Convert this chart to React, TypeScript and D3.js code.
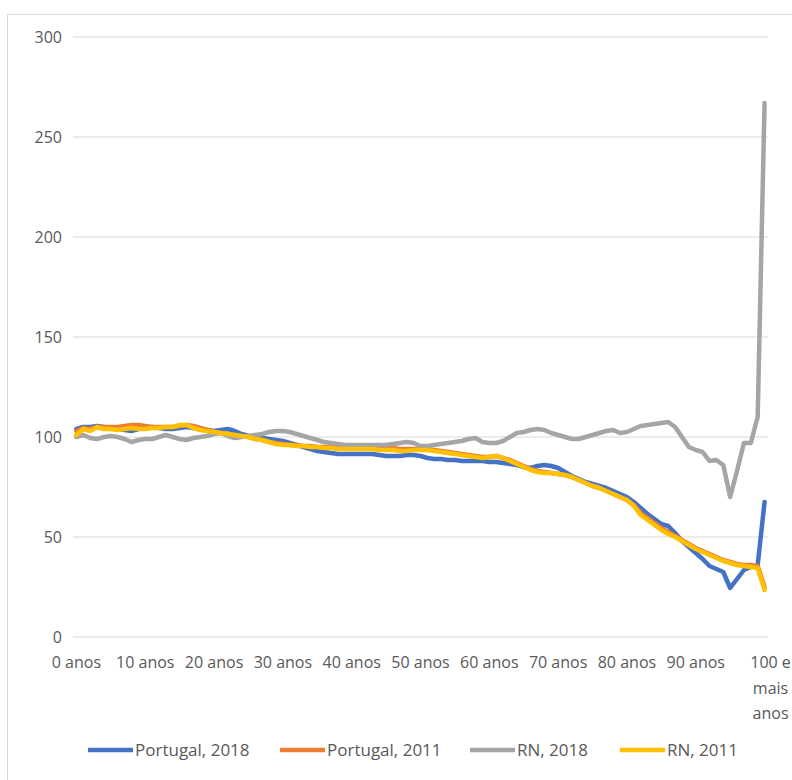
import React from "react";
import * as d3 from "d3";

const categories: string[] = [
  ...Array.from({ length: 100 }, (_, i) => `${i} anos`),
  "100 e mais anos",
];

const tickLabels: string[][] = [
  ["0 anos"], ["10 anos"], ["20 anos"], ["30 anos"], ["40 anos"], ["50 anos"],
  ["60 anos"], ["70 anos"], ["80 anos"], ["90 anos"], ["100 e", "mais", "anos"],
];
const tickCats: string[] = [
  "0 anos", "10 anos", "20 anos", "30 anos", "40 anos", "50 anos",
  "60 anos", "70 anos", "80 anos", "90 anos", "100 e mais anos",
];

const yTicks: number[] = [0, 50, 100, 150, 200, 250, 300];

const portugal2018: number[] = [
  104, 105, 105, 105.5, 105, 104.5, 104, 103.5, 103, 104,
  104.5, 105, 104.5, 104, 104, 104.5, 105, 104.5, 104, 103.5,
  103, 103.5, 104, 103, 101.5, 100.5, 100, 99.5, 99, 98.5,
  98, 97, 96, 95, 94, 93, 92.5, 92, 91.5, 91.5,
  91.5, 91.5, 91.5, 91.5, 91, 90.5, 90.5, 90.5, 91, 91,
  90.5, 89.5, 89, 89, 88.5, 88.5, 88, 88, 88, 88,
  87.5, 87.5, 87, 86.5, 86, 85, 84.5, 85.5, 86, 85.5,
  84.5, 82.5, 80.5, 79, 77.5, 76.5, 75.5, 74.5, 73, 71.5,
  70, 67.5, 64.5, 61.5, 59, 56.5, 55.5, 52, 48, 45,
  42, 39, 35.5, 34, 32.5, 24.5, 29, 33.5, 35, 36,
  67.5,
];

const portugal2011: number[] = [
  103, 104.5, 104, 105, 105, 105, 105, 105.5, 106, 106,
  105.5, 105, 105, 105, 105, 105.5, 106, 105.5, 104.5, 103.5,
  102.5, 102, 101.5, 101, 100.5, 100, 99, 98.5, 97.5, 97,
  96.5, 96, 96, 95.5, 95.5, 95, 95, 95, 94.5, 94.5,
  95, 95, 95.5, 95.5, 95.5, 95, 94.5, 94, 94, 94,
  94, 94, 93.5, 93, 92.5, 92, 91.5, 91, 90.5, 90,
  90, 90.5, 89.5, 88.5, 87, 85.5, 84, 83, 82.5, 82,
  81.5, 81, 80, 78.5, 77, 75.5, 74.5, 73, 71.5, 70,
  68.5, 66, 62, 59.5, 57, 54.5, 52.5, 50.5, 48.5, 46.5,
  44.5, 43, 41.5, 40, 38.5, 37.5, 36.5, 36, 36, 35.5,
  25,
];

const rn2018: number[] = [
  100, 101, 99.5, 99, 100, 100.5, 100, 99, 97.5, 98.5,
  99, 99, 100, 101, 100, 99, 98.5, 99.5, 100, 100.5,
  101.5, 102, 100.5, 99.5, 100, 100.5, 101, 101.5, 102.5, 103,
  103, 102.5, 101.5, 100.5, 99.5, 98.5, 97.5, 97, 96.5, 96,
  96, 96, 96, 96, 96, 96, 96.5, 97, 97.5, 97,
  95.5, 95.5, 96, 96.5, 97, 97.5, 98, 99, 99.5, 97.5,
  97, 97, 98, 100, 102, 102.5, 103.5, 104, 103.5, 102,
  101, 100, 99, 99, 100, 101, 102, 103, 103.5, 102,
  102.5, 104, 105.5, 106, 106.5, 107, 107.5, 105, 100, 95,
  93.5, 92.5, 88, 88.5, 86, 70, 83, 97, 97, 110,
  267,
];

const rn2011: number[] = [
  101, 104, 103, 105, 104, 104, 103.5, 104, 104.5, 104,
  104, 104.5, 104.5, 105, 105, 106, 106, 104.5, 103.5, 103,
  102.5, 102, 101.5, 101, 100.5, 100, 99, 98.5, 97.5, 96.5,
  96, 96, 95.5, 95.5, 95, 95, 94.5, 94.5, 94, 94,
  94, 94, 94, 94, 93.5, 93.5, 93.5, 93, 93, 93.5,
  93.5, 93.5, 93, 92.5, 92, 91.5, 91, 90.5, 90, 89.5,
  90, 90.5, 89.5, 88, 86.5, 85, 83.5, 82.5, 82, 82,
  81.5, 81, 80, 78.5, 77, 75.5, 74.5, 73, 71.5, 70,
  68.5, 65.5, 61, 58.5, 56, 53.5, 51.5, 50, 48, 46,
  44, 42.5, 41, 39.5, 38, 37, 36, 35.5, 35, 34.5,
  23.5,
];

const seriesNames: string[] = ["Portugal, 2018", "Portugal, 2011", "RN, 2018", "RN, 2011"];
const seriesValues: number[][] = [portugal2018, portugal2011, rn2018, rn2011];
const seriesColors: string[] = ["#4472C4", "#ED7D31", "#A5A5A5", "#FFC000"];
const legendX: number[] = [88, 280, 470, 620];

const W = 792;
const H = 780;
const FONT = "'Open Sans', sans-serif";
const TEXT = "#595959";

export default function App() {
  const x = d3.scaleBand<string>().domain(categories).range([73, 768]).paddingInner(0).paddingOuter(0);
  const cx = (c: string) => (x(c) as number) + x.bandwidth() / 2;
  const y = d3.scaleLinear().domain([0, 300]).range([637, 37]);

  const line = d3
    .line<number>()
    .x((_, i) => cx(categories[i]))
    .y((d) => y(d));

  return (
    <svg
      width={W}
      height={H}
      style={{ position: "absolute", left: 0, top: 0, background: "#fff" }}
      fontFamily={FONT}
    >
      <rect x={7.5} y={14.5} width={W + 10} height={H + 10} fill="#fff" stroke="#D9D9D9" strokeWidth={1} />
      {yTicks.map((t) => (
        <g key={t}>
          <line x1={73} x2={768} y1={y(t)} y2={y(t)} stroke="#D9D9D9" strokeWidth={1} />
          <text x={62} y={y(t)} dy="0.35em" textAnchor="end" fontSize={16} fill={TEXT}>
            {t}
          </text>
        </g>
      ))}
      {tickCats.map((c, k) => (
        <text key={c} x={cx(c) + (k === 10 ? 6 : 0)} y={668} textAnchor="middle" fontSize={16} fill={TEXT}>
          {tickLabels[k].map((s, j) => (
            <tspan key={j} x={cx(c) + (k === 10 ? 6 : 0)} dy={j === 0 ? 0 : 25.5}>
              {s}
            </tspan>
          ))}
        </text>
      ))}
      {seriesValues.map((vals, s) => (
        <path
          key={seriesNames[s]}
          d={line(vals) as string}
          fill="none"
          stroke={seriesColors[s]}
          strokeWidth={4.5}
          strokeLinejoin="round"
          strokeLinecap="round"
        />
      ))}
      {seriesNames.map((n, s) => (
        <g key={n}>
          <line x1={legendX[s]} x2={legendX[s] + 45} y1={750} y2={750} stroke={seriesColors[s]} strokeWidth={4.5} />
          <text x={legendX[s] + 47} y={750} dy="0.35em" fontSize={17} fill={TEXT}>
            {n}
          </text>
        </g>
      ))}
    </svg>
  );
}
